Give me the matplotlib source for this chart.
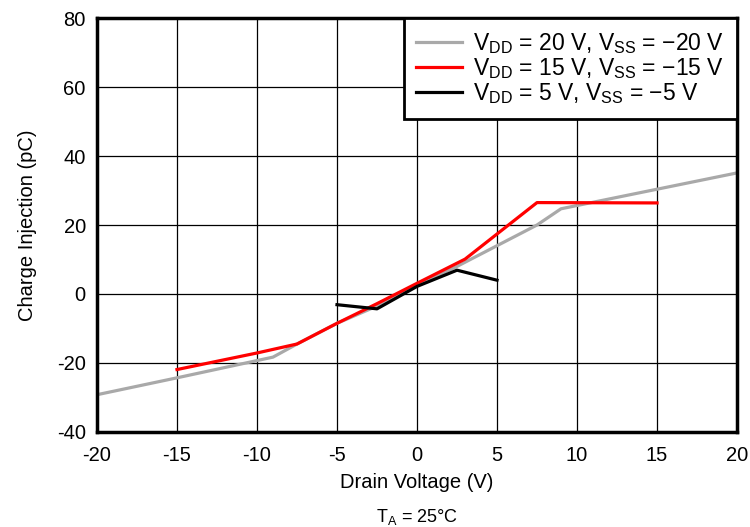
import matplotlib

matplotlib.use("Agg")
import matplotlib.pyplot as plt

plt.rcParams["font.family"] = ["Liberation Sans", "DejaVu Sans"]
plt.rcParams["mathtext.fontset"] = "custom"
plt.rcParams["mathtext.rm"] = "Liberation Sans"
plt.rcParams["mathtext.it"] = "Liberation Sans"
plt.rcParams["axes.unicode_minus"] = False

# series
v20_x = [-20, -15, -9, -7.5, -5, -2.5, 0, 2.5, 5, 7.5, 9, 20]
v20_y = [-29.2, -24.3, -18.3, -14.5, -8.5, -3.5, 2.5, 8.0, 14.0, 20.0, 24.7, 35.1]
v15_x = [-15, -10, -7.5, -5, -2.5, 0, 3, 7.5, 15]
v15_y = [-21.9, -17.1, -14.5, -8.5, -2.8, 3.1, 10.1, 26.5, 26.4]
v5_x = [-5, -2.5, 0, 2.5, 5]
v5_y = [-3.1, -4.3, 2.2, 6.9, 4.0]

labels = [
    r"V$_{\mathrm{DD}}$ = 20 V, V$_{\mathrm{SS}}$ = $-$20 V",
    r"V$_{\mathrm{DD}}$ = 15 V, V$_{\mathrm{SS}}$ = $-$15 V",
    r"V$_{\mathrm{DD}}$ = 5 V, V$_{\mathrm{SS}}$ = $-$5 V",
]
x_ticks = [-20, -15, -10, -5, 0, 5, 10, 15, 20]
y_ticks = [-40, -20, 0, 20, 40, 60, 80]

fig = plt.figure(figsize=(7.5, 5.27), dpi=100)
ax = fig.add_axes([0.1293, 0.1803, 0.8534, 0.7855])

ax.plot(v20_x, v20_y, color="#A9A9A9", lw=2.3, label=labels[0])
ax.plot(v15_x, v15_y, color="#FF0000", lw=2.3, label=labels[1])
ax.plot(v5_x, v5_y, color="#000000", lw=2.3, label=labels[2])

ax.set_xlim(-20, 20)
ax.set_ylim(-40, 80)
ax.set_xticks(x_ticks)
ax.set_yticks(y_ticks)
ax.grid(True, color="black", lw=0.9)
ax.set_axisbelow(True)
ax.tick_params(length=0, labelsize=14.5)
ax.tick_params(axis="x", pad=10)
ax.tick_params(axis="y", pad=8)
for spine in ax.spines.values():
    spine.set_linewidth(2.5)

ax.set_xlabel("Drain Voltage (V)", fontsize=14.5, labelpad=6)
ax.set_ylabel("Charge Injection (pC)", fontsize=14.5, labelpad=14)
fig.text(0.556, 0.019, r"T$_{\mathrm{A}}$ = 25°C", ha="center", va="center", fontsize=13)

leg = ax.legend(loc="upper right", fontsize=16.5, frameon=True, fancybox=False,
                borderaxespad=0, handlelength=2.0, handletextpad=0.5,
                labelspacing=0.02, borderpad=0.55)
leg.get_frame().set_edgecolor("black")
leg.get_frame().set_linewidth(2)
leg.get_frame().set_alpha(1)

fig.savefig("out.png", dpi=100)
